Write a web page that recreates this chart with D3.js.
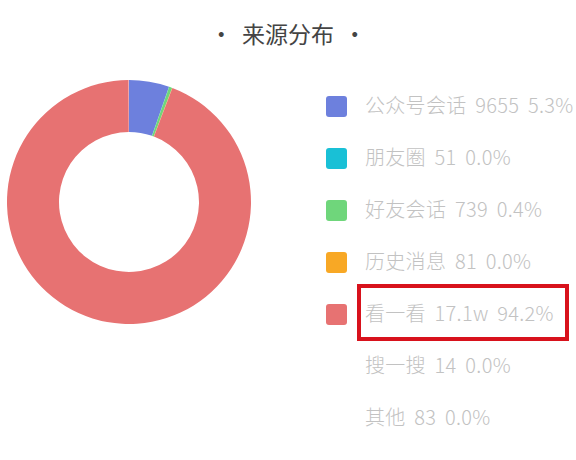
<!DOCTYPE html>
<html>
<head>
<meta charset="utf-8">
<script src="https://cdn.jsdelivr.net/npm/d3@7"></script>
<style>
  html, body { margin: 0; padding: 0; background: #fff; }
  svg { display: block; font-family: "Noto Sans CJK SC", "Noto Sans", sans-serif; }
</style>
</head>
<body>
<div class="chart"></div>
<script>
const width = 576;
const height = 460;

// source categories and visit counts
const sources = ["公众号会话", "朋友圈", "好友会话", "历史消息", "看一看", "搜一搜", "其他"];
const counts = [9655, 51, 739, 81, 171000, 14, 83];
const countLabels = ["9655", "51", "739", "81", "17.1w", "14", "83"];
const colors = ["#6d80dd", "#19c0d6", "#6fd67b", "#f8a825", "#e77272", null, null];
const highlighted = "看一看";

const svg = d3.select(".chart")
    .append("svg")
    .attr("width", width)
    .attr("height", height);

// title
svg.append("text")
    .attr("x", 288)
    .attr("y", 35)
    .attr("dy", "0.35em")
    .attr("text-anchor", "middle")
    .attr("font-size", "23px")
    .attr("fill", "#444")
    .attr("word-spacing", "4px")
    .text("·  来源分布  ·");

const total = d3.sum(counts);
const data = sources.map((s, i) => ({ name: s, value: counts[i], label: countLabels[i], color: colors[i] }));

const pie = d3.pie()
    .sort(null)
    .value(d => d.value);

const arc = d3.arc()
    .innerRadius(70)
    .outerRadius(122);

const donut = svg.append("g")
    .attr("transform", "translate(129,202)");

donut.selectAll("path")
    .data(pie(data).filter(d => d.data.color))
    .enter()
    .append("path")
    .attr("d", arc)
    .attr("fill", d => d.data.color);

// legend
const y = d3.scalePoint()
    .domain(sources)
    .range([106, 418]);

const legend = svg.append("g");

const rows = legend.selectAll("g")
    .data(data)
    .enter()
    .append("g")
    .attr("transform", d => `translate(0,${y(d.name)})`);

rows.filter(d => d.color)
    .append("rect")
    .attr("x", 326)
    .attr("y", -10)
    .attr("width", 21)
    .attr("height", 21)
    .attr("rx", 3)
    .attr("fill", d => d.color);

rows.append("text")
    .attr("x", 365)
    .attr("dy", "0.35em")
    .attr("font-size", "20px")
    .attr("font-weight", 300)
    .attr("letter-spacing", "0.3px")
    .attr("word-spacing", "4px")
    .attr("fill", "#c2c2c2")
    .text(d => `${d.name} ${d.label} ${(d.value / total * 100).toFixed(1)}%`);

// red box round the highlighted row
legend.append("rect")
    .attr("x", 359)
    .attr("y", y(highlighted) - 28)
    .attr("width", 208)
    .attr("height", 53)
    .attr("fill", "none")
    .attr("stroke", "#d8121c")
    .attr("stroke-width", 4);
</script>
</body>
</html>
